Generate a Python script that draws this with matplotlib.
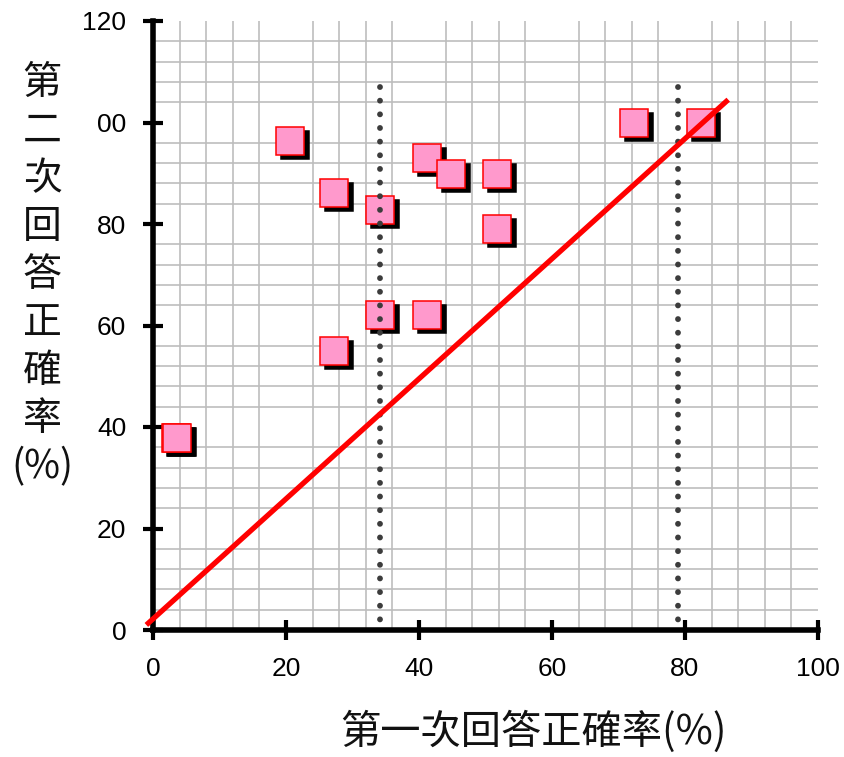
import matplotlib
matplotlib.use('Agg')
import matplotlib.pyplot as plt
import matplotlib.transforms as mtransforms
from matplotlib.ticker import FixedLocator
import numpy as np

# ---- data ----
first_rate = [3.4, 3.65, 20.6, 27.2, 34.2, 41.2, 44.8, 51.7, 51.7, 34.2, 41.2, 27.2, 72.4, 82.4]
second_rate = [37.8, 37.8, 96.3, 86.2, 82.7, 93.0, 89.9, 89.9, 79.0, 62.1, 62.1, 55.0, 99.9, 100.0]

ref_line_x = [-1.0, 86.5]
ref_line_y = [1.0, 104.5]

cutoff_x = [34.2, 79.0]
cutoff_top = 107

x_ticks = [0, 20, 40, 60, 80, 100]
x_tick_labels = ['0', '20', '40', '60', '80', '100']
y_ticks = [0, 20, 40, 60, 80, 100, 120]
y_tick_labels = ['0', '20', '40', '60', '80', '00', '120']
x_label = '第一次回答正確率(%)'
y_label = '第\n二\n次\n回\n答\n正\n確\n率\n(%)'

cjk = ['Noto Sans CJK TC', 'DejaVu Sans']

fig = plt.figure(figsize=(8.45, 7.57), dpi=100)
ax = fig.add_axes([153/845, 127/757, 665/845, 609/757])
ax.set_xlim(0, 100)
ax.set_ylim(0, 120)

# grid
ax.xaxis.set_minor_locator(FixedLocator(np.arange(4, 100, 4)))
ax.yaxis.set_minor_locator(FixedLocator(np.arange(4, 120, 4)))
ax.grid(which='minor', color='#bdbdbd', linewidth=1.2, zorder=0)
ax.grid(which='major', visible=False)
ax.set_axisbelow(True)
ax.tick_params(which='minor', length=0)

for s in ['top', 'right']:
    ax.spines[s].set_visible(False)
for s in ['left', 'bottom']:
    ax.spines[s].set_linewidth(4)
    ax.spines[s].set_color('black')

ax.set_xticks(x_ticks)
ax.set_xticklabels(x_tick_labels)
ax.set_yticks(y_ticks)
ax.set_yticklabels(y_tick_labels)
ax.tick_params(which='major', direction='inout', length=14.4, width=3, color='black',
               labelsize=19, pad=12)
for lab in ax.get_xticklabels() + ax.get_yticklabels():
    lab.set_fontfamily(['Liberation Sans', 'DejaVu Sans'])

# shadows
shadow_tr = mtransforms.offset_copy(ax.transData, fig=fig, x=5, y=-4, units='dots')
ax.plot(first_rate, second_rate, linestyle='none', marker='s', markersize=20.5,
        markerfacecolor='black', markeredgecolor='black', markeredgewidth=1.1,
        transform=shadow_tr, zorder=3, clip_on=False)
# markers
ax.plot(first_rate, second_rate, linestyle='none', marker='s', markersize=20.5,
        markerfacecolor='#ff99cc', markeredgecolor='#ff0000', markeredgewidth=1.1,
        zorder=4, clip_on=False)

# dotted cutoffs (drawn from the top down so a dot sits at the top end)
for cx in cutoff_x:
    ax.plot([cx, cx], [cutoff_top, 0], color='#3c3c3c', linewidth=4.2,
            linestyle=(0, (0.01, 2.33)), dash_capstyle='round', zorder=5)

# red reference line
ax.plot(ref_line_x, ref_line_y, color='#ff0000', linewidth=3.8,
        solid_capstyle='butt', zorder=6, clip_on=False)

fig.text(533/845, 25/757, x_label, fontsize=29, family=cjk, ha='center', va='center',
         color='#111111')
fig.text(42/845, 482/757, y_label, fontsize=28, family=cjk, ha='center', va='center',
         multialignment='center', linespacing=1.26, color='#111111')

fig.savefig('out.png', dpi=100, facecolor='white')
